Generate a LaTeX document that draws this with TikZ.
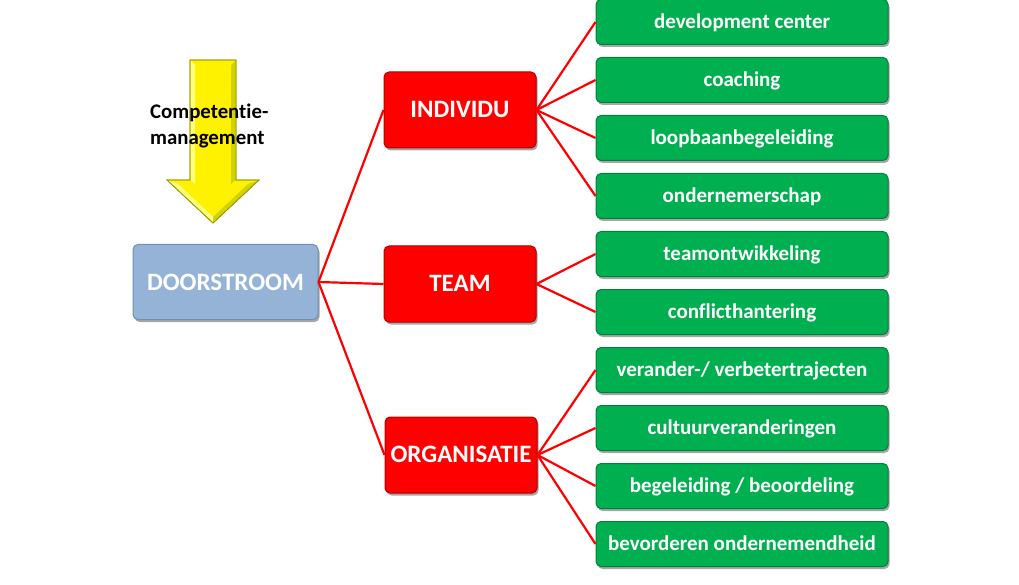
\documentclass[tikz,border=0pt]{standalone}
\usepackage{fontspec}
\setmainfont{Carlito}[Ligatures=CommonOff]
\usetikzlibrary{shadows}
\definecolor{doorblue}{HTML}{95B3D7}
\definecolor{dooredge}{HTML}{6D8FB8}
\definecolor{redfill}{HTML}{FF0000}
\definecolor{rededge}{HTML}{B00000}
\definecolor{greenfill}{HTML}{00B050}
\definecolor{greenedge}{HTML}{00803A}
\definecolor{arrowedge}{HTML}{9A9A00}
\definecolor{arrowdark}{HTML}{D2D200}
\definecolor{arrowlight}{HTML}{FFFF80}
\tikzset{
  boxbase/.style={rounded corners=5pt, line width=1pt, text=white, font=\bfseries,
    inner sep=0pt, text depth=0pt,
    drop shadow={shadow xshift=1.5pt, shadow yshift=-2.5pt, fill=black, opacity=0.35}},
  bluebox/.style={boxbase, fill=doorblue, draw=dooredge, minimum width=185pt, minimum height=75pt,
    text height=16pt, font=\bfseries\fontsize{25}{28}\selectfont},
  redbox/.style={boxbase, fill=redfill, draw=rededge, minimum width=152pt, minimum height=76pt,
    text height=15.5pt, font=\bfseries\fontsize{25}{28}\selectfont},
  greenbox/.style={boxbase, fill=greenfill, draw=greenedge, minimum width=292pt, minimum height=45pt,
    text height=13.5pt, font=\bfseries\fontsize{21}{24}\selectfont},
  conn/.style={draw=red, line width=2.2pt},
  arrowshape/.style={fill=yellow, draw=arrowedge, line width=0.8pt, line join=miter}
}
\begin{document}
\begin{tikzpicture}[x=1pt,y=-1pt]
\useasboundingbox (0,0) rectangle (1019,585);
% yellow arrow
\fill[arrowshape] (190,60) -- (236,60) -- (236,180) -- (259,180) -- (213,223) -- (167,180) -- (190,180) -- cycle;
\fill[arrowlight] (190.5,60.5) -- (195,65) -- (195,184) -- (190.5,180) -- cycle;
\fill[arrowdark] (235.5,60.5) -- (231,65) -- (231,184) -- (235.5,180) -- cycle;
\fill[arrowdark] (258,180.5) -- (248,184) -- (213,217) -- (213,222) -- cycle;
\fill[arrowlight] (168,180.5) -- (178,184) -- (213,217) -- (213,222) -- cycle;
\draw[draw=arrowedge, line width=0.8pt, line join=miter] (190,60) -- (236,60) -- (236,180) -- (259,180) -- (213,223) -- (167,180) -- (190,180) -- cycle;
\node[anchor=west, align=left, font=\bfseries\fontsize{20.8}{26}\selectfont, inner sep=0pt] (comp) at (150,126) {Competentie-\\management};
% main nodes
\node[bluebox] (door) at (225.5,282) {DOORSTROOM};
\node[redbox] (ind) at (460,110) {INDIVIDU};
\node[redbox] (team) at (460,284) {TEAM};
\node[redbox] (org) at (461,455) {ORGANISATIE};
% green nodes
\node[greenbox] (g1) at (742,22) {development center};
\node[greenbox] (g2) at (742,80) {coaching};
\node[greenbox] (g3) at (742,138) {loopbaanbegeleiding};
\node[greenbox] (g4) at (742,196) {ondernemerschap};
\node[greenbox] (g5) at (742,254) {teamontwikkeling};
\node[greenbox] (g6) at (742,312) {conflicthantering};
\node[greenbox] (g7) at (742,370) {verander-/ verbetertrajecten};
\node[greenbox] (g8) at (742,428) {cultuurveranderingen};
\node[greenbox] (g9) at (742,486) {begeleiding / beoordeling};
\node[greenbox] (g10) at (742,544) {bevorderen ondernemendheid};
% connectors
\draw[conn] (door.east) -- (ind.west);
\draw[conn] (door.east) -- (team.west);
\draw[conn] (door.east) -- (org.west);
\foreach \g in {g1,g2,g3,g4}{\draw[conn] (ind.east) -- (\g.west);}
\foreach \g in {g5,g6}{\draw[conn] (team.east) -- (\g.west);}
\foreach \g in {g7,g8,g9,g10}{\draw[conn] (org.east) -- (\g.west);}
\end{tikzpicture}
\end{document}
